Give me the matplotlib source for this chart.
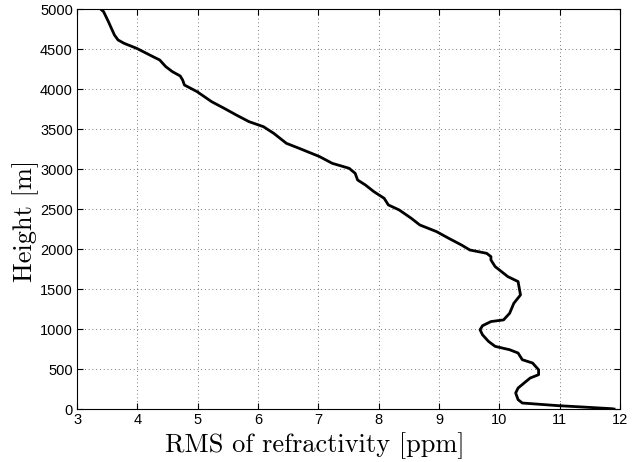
import matplotlib
matplotlib.use("Agg")
import matplotlib.pyplot as plt

# RMS profile
rms = [3.39, 3.44, 3.52, 3.57, 3.62, 3.68, 3.78, 3.99, 4.26, 4.37, 4.47, 4.58,
       4.71, 4.75, 4.78, 4.99, 5.23, 5.44, 5.64, 5.85, 6.09, 6.26, 6.47, 6.68,
       7.02, 7.23, 7.51, 7.61, 7.65, 7.78, 7.92, 8.09, 8.16, 8.34, 8.54, 8.68,
       8.96, 9.16, 9.37, 9.51, 9.79, 9.86, 9.86, 9.93, 10.14, 10.31, 10.33,
       10.35, 10.24, 10.17, 10.07, 9.86, 9.72, 9.68, 9.72, 9.82, 9.93, 10.17,
       10.31, 10.38, 10.55, 10.65, 10.65, 10.51, 10.41, 10.31, 10.27, 10.31,
       10.38, 10.97, 11.38, 11.86, 11.9]
height = [5000, 4967, 4842, 4758, 4675, 4613, 4571, 4508, 4404, 4363, 4280, 4217,
          4163, 4113, 4050, 3967, 3842, 3758, 3675, 3592, 3529, 3446, 3321, 3259,
          3155, 3071, 3009, 2946, 2863, 2800, 2717, 2634, 2551, 2488, 2384, 2301,
          2217, 2134, 2051, 1988, 1946, 1905, 1863, 1780, 1655, 1593, 1509,
          1426, 1322, 1197, 1114, 1093, 1041, 991, 928, 845, 783, 741,
          700, 616, 575, 491, 429, 387, 325, 262, 200, 117,
          75, 42, 25, 4, 0]

xticks = list(range(3, 13))
yticks = list(range(0, 5001, 500))

fig = plt.figure(figsize=(6.43, 4.62), dpi=100)
ax = fig.add_axes([0.1198, 0.1147, 0.8445, 0.8658])

ax.plot(rms, height, color='black', linewidth=2)

ax.set_xlim(3, 12)
ax.set_ylim(0, 5000)
ax.set_xticks(xticks)
ax.set_yticks(yticks)
ax.tick_params(direction='in', top=True, right=True, labelsize=10.5, length=4, pad=3)
for lbl in ax.get_xticklabels() + ax.get_yticklabels():
    lbl.set_fontfamily('Liberation Sans')
ax.grid(True, linestyle=(0, (1, 3.5)), color='black', linewidth=0.6, alpha=0.7)

ax.set_xlabel('RMS of refractivity [ppm]', fontname='cmr10', fontsize=19)
ax.set_ylabel('Height [m]', fontname='cmr10', fontsize=19)
ax.xaxis.label.set_va('center')
ax.yaxis.label.set_va('center')
ax.xaxis.set_label_coords(0.438, -0.0925)
ax.yaxis.set_label_coords(-0.094, 0.47)

fig.savefig('out.png', dpi=100)
